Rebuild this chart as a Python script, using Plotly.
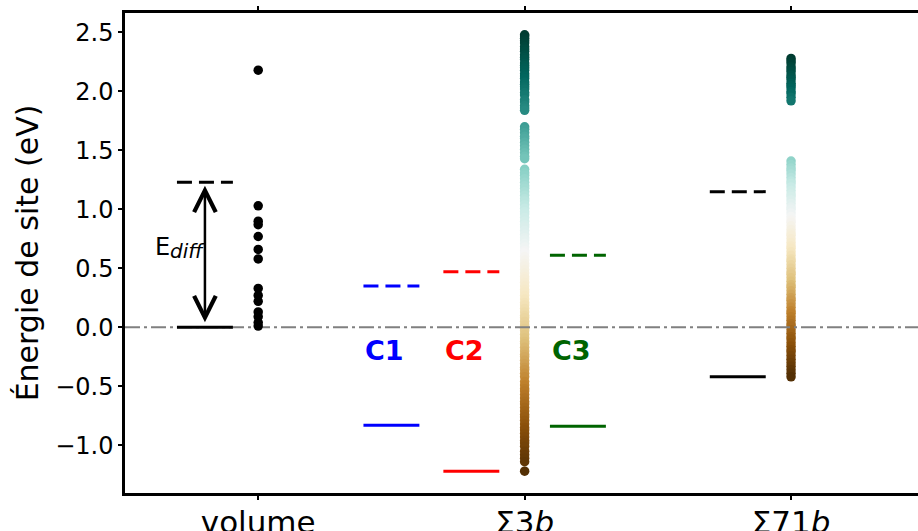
import plotly.graph_objects as go

# ---------------- data ----------------
categories = ["volume", "Σ3<i>b</i>", "Σ71<i>b</i>"]

E_volume = [2.18, 1.03, 0.90, 0.87, 0.77, 0.66, 0.58, 0.33, 0.27, 0.22, 0.13, 0.09, 0.04, 0.01]

E_sigma3 = [2.48, 2.47, 2.45, 2.43, 2.41, 2.38, 2.36, 2.34, 2.31, 2.29, 2.27, 2.24, 2.22, 2.20,
            2.18, 2.15, 2.13, 2.11, 2.08, 2.06, 2.04, 2.02, 1.99, 1.97,
            1.93, 1.91, 1.88, 1.86, 1.84,
            1.70, 1.68, 1.65, 1.62, 1.60, 1.57, 1.54, 1.51, 1.48, 1.45, 1.43,
            1.34, 1.31, 1.29, 1.26, 1.23, 1.20, 1.18, 1.15, 1.12, 1.09, 1.07, 1.04, 1.01, 0.98,
            0.96, 0.93, 0.90, 0.87, 0.85, 0.82, 0.79, 0.76, 0.74, 0.71, 0.68, 0.65, 0.63, 0.60,
            0.57, 0.54, 0.52, 0.49, 0.46, 0.43, 0.41, 0.38, 0.35, 0.32, 0.30, 0.27, 0.24, 0.21,
            0.19, 0.16, 0.13, 0.10, 0.08, 0.05, 0.02, -0.01, -0.03, -0.06, -0.09, -0.12, -0.14,
            -0.17, -0.20, -0.23, -0.25, -0.28, -0.31, -0.34, -0.36, -0.39, -0.42, -0.46, -0.49,
            -0.52, -0.54, -0.57, -0.60, -0.63, -0.65, -0.68, -0.71, -0.74, -0.76, -0.79, -0.82,
            -0.85, -0.87, -0.90, -0.93, -0.96, -0.98, -1.01, -1.05, -1.08, -1.11, -1.14, -1.22]

E_sigma71 = [2.28, 2.26, 2.24, 2.21, 2.19, 2.17, 2.14, 2.12, 2.10, 2.07, 2.05, 2.03, 2.00,
             1.98, 1.95, 1.92,
             1.41, 1.38, 1.35, 1.33, 1.30, 1.27, 1.24, 1.22, 1.19, 1.16, 1.13, 1.11, 1.08,
             1.05, 1.02, 1.00, 0.97, 0.94, 0.91, 0.89, 0.86, 0.83, 0.80, 0.78, 0.75, 0.72,
             0.69, 0.67, 0.64, 0.61, 0.58, 0.56, 0.53, 0.50, 0.47, 0.45, 0.42, 0.39, 0.36,
             0.34, 0.31, 0.28, 0.25, 0.23, 0.20, 0.17, 0.14, 0.12, 0.09, 0.06, 0.03, 0.01,
             -0.02, -0.05, -0.08, -0.10, -0.13, -0.16, -0.19, -0.21, -0.24, -0.27, -0.30,
             -0.33, -0.36, -0.39, -0.42]

# reference levels: (label, solid energy, dashed energy)
level_labels = ["volume", "C1", "C2", "C3", "Σ71b"]
level_solid = [0.0, -0.83, -1.22, -0.84, -0.42]
level_dashed = [1.23, 0.35, 0.47, 0.61, 1.15]

y_ticks = [-1.0, -0.5, 0.0, 0.5, 1.0, 1.5, 2.0, 2.5]

# ---------------- styles / positions ----------------
level_centers = [-0.2, 0.5, 0.8, 1.2, 1.8]
level_colors = ["black", "blue", "red", "#006400", "black"]
half_w = 0.105
FONT = "DejaVu Sans"

fig = go.Figure()

# colored scatter columns
for xi, vals in [(1, E_sigma3), (2, E_sigma71)]:
    fig.add_trace(go.Scatter(
        x=[xi] * len(vals), y=vals, mode="markers",
        marker=dict(size=9.5, color=vals, colorscale="BrBG",
                    cmin=min(vals), cmax=max(vals), showscale=False,
                    line=dict(width=0)),
        showlegend=False, hoverinfo="y"))

# zero reference line (dash-dot)
fig.add_trace(go.Scatter(x=[-0.5, 2.5], y=[0, 0], mode="lines",
                         line=dict(color="#808080", width=2, dash="15px,4px,3px,4px"),
                         showlegend=False, hoverinfo="skip"))

# level lines
for c, col, es, ed in zip(level_centers, level_colors, level_solid, level_dashed):
    fig.add_trace(go.Scatter(x=[c - half_w, c + half_w], y=[es, es], mode="lines",
                             line=dict(color=col, width=3), showlegend=False, hoverinfo="skip"))
    fig.add_trace(go.Scatter(x=[c - half_w, c + half_w], y=[ed, ed], mode="lines",
                             line=dict(color=col, width=3, dash="15px,7px"),
                             showlegend=False, hoverinfo="skip"))

# volume points
fig.add_trace(go.Scatter(x=[0] * len(E_volume), y=E_volume, mode="markers",
                         marker=dict(size=9.5, color="black"), showlegend=False, hoverinfo="y"))

annotations = []
# C labels
for lab, c, col in zip(level_labels[1:4], level_centers[1:4], level_colors[1:4]):
    annotations.append(dict(x=c - half_w, y=-0.2, xref="x", yref="y", text="<b>%s</b>" % lab,
                            showarrow=False, xanchor="left", yanchor="middle",
                            font=dict(family=FONT, size=27, color=col)))

# E_diff double arrow
annotations.append(dict(x=level_centers[0], y=level_dashed[0] - 0.03,
                        ax=level_centers[0], ay=level_solid[0] + 0.03,
                        xref="x", yref="y", axref="x", ayref="y", text="",
                        showarrow=True, arrowhead=5, startarrowhead=5, arrowside="end+start",
                        arrowsize=1.7, startarrowsize=1.7, arrowwidth=2.5, arrowcolor="black"))
annotations.append(dict(x=-0.396, y=0.68, xref="x", yref="y", text="E", showarrow=False,
                        xanchor="left", yanchor="middle",
                        font=dict(family=FONT, size=24, color="black")))
annotations.append(dict(x=-0.338, y=0.645, xref="x", yref="y", text="<i>diff</i>",
                        showarrow=False, xanchor="left", yanchor="middle",
                        font=dict(family=FONT, size=20, color="black")))

fig.update_layout(
    width=918, height=531,
    margin=dict(l=125, r=0, t=13, b=38, autoexpand=False),
    plot_bgcolor="white", paper_bgcolor="white",
    font=dict(family=FONT, color="black"),
    annotations=annotations,
    xaxis=dict(range=[-0.5, 2.4765], tickvals=[0, 1, 2], ticktext=categories,
               showgrid=False, zeroline=False, showline=True, linecolor="black", linewidth=2.5,
               mirror="ticks", ticks="outside", ticklen=4, tickwidth=1.5, tickcolor="black",
               tickfont=dict(family=FONT, size=31), automargin=False, ticklabelstandoff=-4),
    yaxis=dict(range=[-1.405, 2.665], tickvals=y_ticks,
               ticktext=[("−" if v < 0 else "") + "%.1f" % abs(v) for v in y_ticks],
               showgrid=False, zeroline=False, showline=True, linecolor="black", linewidth=2.5,
               ticks="outside", ticklen=4, tickwidth=1.5, tickcolor="black",
               tickfont=dict(family=FONT, size=24), automargin=False,
               title=dict(text="Énergie de site (eV)", font=dict(family=FONT, size=30),
                          standoff=8)),
)

fig.write_html("out.html", config={"displayModeBar": False},
               post_script="document.body.style.margin='0';")
